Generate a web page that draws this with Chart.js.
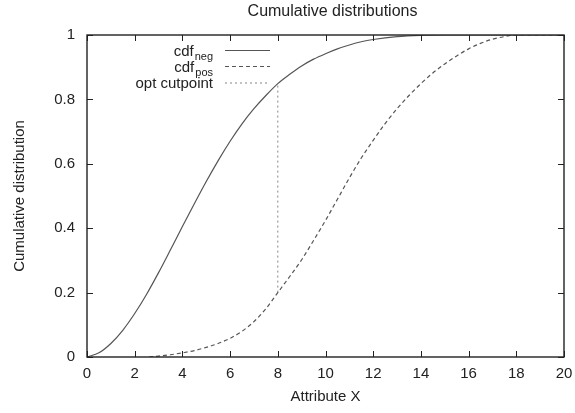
<!DOCTYPE html>
<html>
<head>
<meta charset="utf-8">
<title>Cumulative distributions</title>
<script src="https://cdn.jsdelivr.net/npm/chart.js@4.4.0/dist/chart.umd.min.js"></script>
<style>
  html, body { margin: 0; padding: 0; background: #fff; }
</style>
</head>
<body>
<canvas id="cdfChart" width="575" height="413"></canvas>
<script>
// DATA
const negX = [0, 0.5, 1, 1.5, 2, 2.5, 3, 3.5, 4, 4.5, 5, 5.5, 6, 6.5, 7, 7.5, 8, 8.5, 9, 9.5, 10, 10.5, 11, 11.5, 12, 13, 14, 15, 16, 18, 20];
const negY = [0, 0.013, 0.042, 0.083, 0.135, 0.195, 0.262, 0.333, 0.405, 0.476, 0.545, 0.61, 0.67, 0.724, 0.771, 0.812, 0.849, 0.878, 0.904, 0.925, 0.942, 0.957, 0.969, 0.979, 0.986, 0.995, 0.999, 1, 1, 1, 1];

const posX = [2.6, 3, 3.5, 4, 4.5, 5, 5.5, 6, 6.5, 7, 7.5, 8, 8.5, 9, 9.5, 10, 10.5, 11, 11.5, 12, 12.5, 13, 13.5, 14, 14.5, 15, 15.5, 16, 16.5, 17, 17.5, 18, 19, 20];
const posY = [0, 0.003, 0.007, 0.013, 0.02, 0.03, 0.042, 0.058, 0.08, 0.11, 0.15, 0.2, 0.25, 0.302, 0.362, 0.424, 0.49, 0.556, 0.618, 0.673, 0.725, 0.771, 0.812, 0.849, 0.882, 0.91, 0.935, 0.957, 0.974, 0.987, 0.995, 1, 1, 1];

const cutX = [8, 8];
const cutY = [0.2, 0.849];

const xRange = [0, 20];
const yRange = [0, 1];

const chartTitle = 'Cumulative distributions';
const xTitle = 'Attribute X';
const yTitle = 'Cumulative distribution';

// legend rows: main text + subscript
const legendMain = ['cdf', 'cdf', 'opt cutpoint'];
const legendSub = ['neg', 'pos', ''];

const FONT = '"Liberation Sans", Arial, Helvetica, sans-serif';
const curveColor = '#555';
const dashes = [[], [4, 3], [2, 3]];
const widths = [1.2, 1.2, 0.9];

function toPoints(xs, ys) {
  return xs.map((x, i) => ({ x: x, y: ys[i] }));
}

// gnuplot look: frame, inward ticks on all four sides, title and legend
const gnuplotBits = {
  id: 'gnuplotBits',
  afterDatasetsDraw(chart) {
    const ctx = chart.ctx;
    const area = chart.chartArea;
    const xs = chart.scales.x;
    const ys = chart.scales.y;
    ctx.save();
    ctx.strokeStyle = '#222';
    ctx.lineWidth = 1;
    ctx.beginPath();
    xs.ticks.forEach(t => {
      const px = Math.round(xs.getPixelForValue(t.value)) + 0.5;
      ctx.moveTo(px, area.bottom); ctx.lineTo(px, area.bottom - 6);
      ctx.moveTo(px, area.top); ctx.lineTo(px, area.top + 6);
    });
    ys.ticks.forEach(t => {
      const py = Math.round(ys.getPixelForValue(t.value)) + 0.5;
      ctx.moveTo(area.left, py); ctx.lineTo(area.left + 6, py);
      ctx.moveTo(area.right, py); ctx.lineTo(area.right - 6, py);
    });
    ctx.stroke();
    ctx.lineWidth = 1.4;
    ctx.strokeRect(area.left, area.top, area.right - area.left, area.bottom - area.top);

    // title over the plot area
    ctx.fillStyle = '#222';
    ctx.font = '16px ' + FONT;
    ctx.textAlign = 'center';
    ctx.textBaseline = 'middle';
    ctx.fillText(chartTitle, (area.left + area.right) / 2 + 7, 12);

    // legend
    const textRight = area.left + 126;
    const rowY = [50.5, 66.5, 83];
    chart.data.datasets.forEach((ds, i) => {
      const y = rowY[i];
      ctx.textAlign = 'right';
      ctx.textBaseline = 'alphabetic';
      let x = textRight;
      if (legendSub[i]) {
        ctx.font = '11px ' + FONT;
        ctx.fillText(legendSub[i], x, y + 9);
        x -= ctx.measureText(legendSub[i]).width + 1;
      }
      ctx.font = '15px ' + FONT;
      ctx.fillText(legendMain[i], x, y + 5);

      ctx.strokeStyle = ds.borderColor;
      ctx.lineWidth = ds.borderWidth;
      ctx.setLineDash(ds.borderDash || []);
      ctx.beginPath();
      ctx.moveTo(area.left + 138, y);
      ctx.lineTo(area.left + 183, y);
      ctx.stroke();
      ctx.setLineDash([]);
    });
    ctx.restore();
  }
};

const cdfData = {
  datasets: [
    {
      label: 'cdf_neg',
      data: toPoints(negX, negY),
      borderColor: curveColor,
      borderWidth: widths[0],
      borderDash: dashes[0],
      cubicInterpolationMode: 'monotone',
      pointRadius: 0,
    },
    {
      label: 'cdf_pos',
      data: toPoints(posX, posY),
      borderColor: curveColor,
      borderWidth: widths[1],
      borderDash: dashes[1],
      cubicInterpolationMode: 'monotone',
      pointRadius: 0,
    },
    {
      label: 'opt cutpoint',
      data: toPoints(cutX, cutY),
      borderColor: '#777',
      borderWidth: widths[2],
      borderDash: dashes[2],
      pointRadius: 0,
    },
  ]
};

const cdfConfig = {
  type: 'line',
  data: cdfData,
  plugins: [gnuplotBits],
  options: {
    responsive: false,
    animation: false,
    devicePixelRatio: 1,
    layout: { padding: { top: 35, right: 11, left: 0, bottom: 0 } },
    plugins: {
      legend: { display: false },
      title: { display: false },
      tooltip: { enabled: false },
    },
    scales: {
      x: {
        type: 'linear',
        min: xRange[0],
        max: xRange[1],
        grid: { display: false, drawTicks: false },
        border: { display: false },
        ticks: { stepSize: 2, padding: 8, color: '#222', font: { family: FONT, size: 15 } },
        title: { display: true, text: xTitle, color: '#222', font: { family: FONT, size: 15 }, padding: { top: 0, bottom: 7 } },
        afterFit: (scale) => {
          scale.height = 56;
          scale.paddingLeft = 0;
          scale.paddingRight = 0;
        },
      },
      y: {
        min: yRange[0],
        max: yRange[1],
        grid: { display: false, drawTicks: false },
        border: { display: false },
        ticks: {
          stepSize: 0.2, padding: 12, color: '#222', font: { family: FONT, size: 15 },
          callback: (v) => String(Number(v.toFixed(1))),
        },
        title: { display: true, text: yTitle, color: '#222', font: { family: FONT, size: 15 }, padding: { top: 11, bottom: 0 } },
        afterFit: (scale) => {
          scale.width = 87;
          scale.paddingTop = 0;
          scale.paddingBottom = 0;
        },
      },
    },
  },
};

const cdfChart = new Chart(document.getElementById('cdfChart'), cdfConfig);
</script>
</body>
</html>
